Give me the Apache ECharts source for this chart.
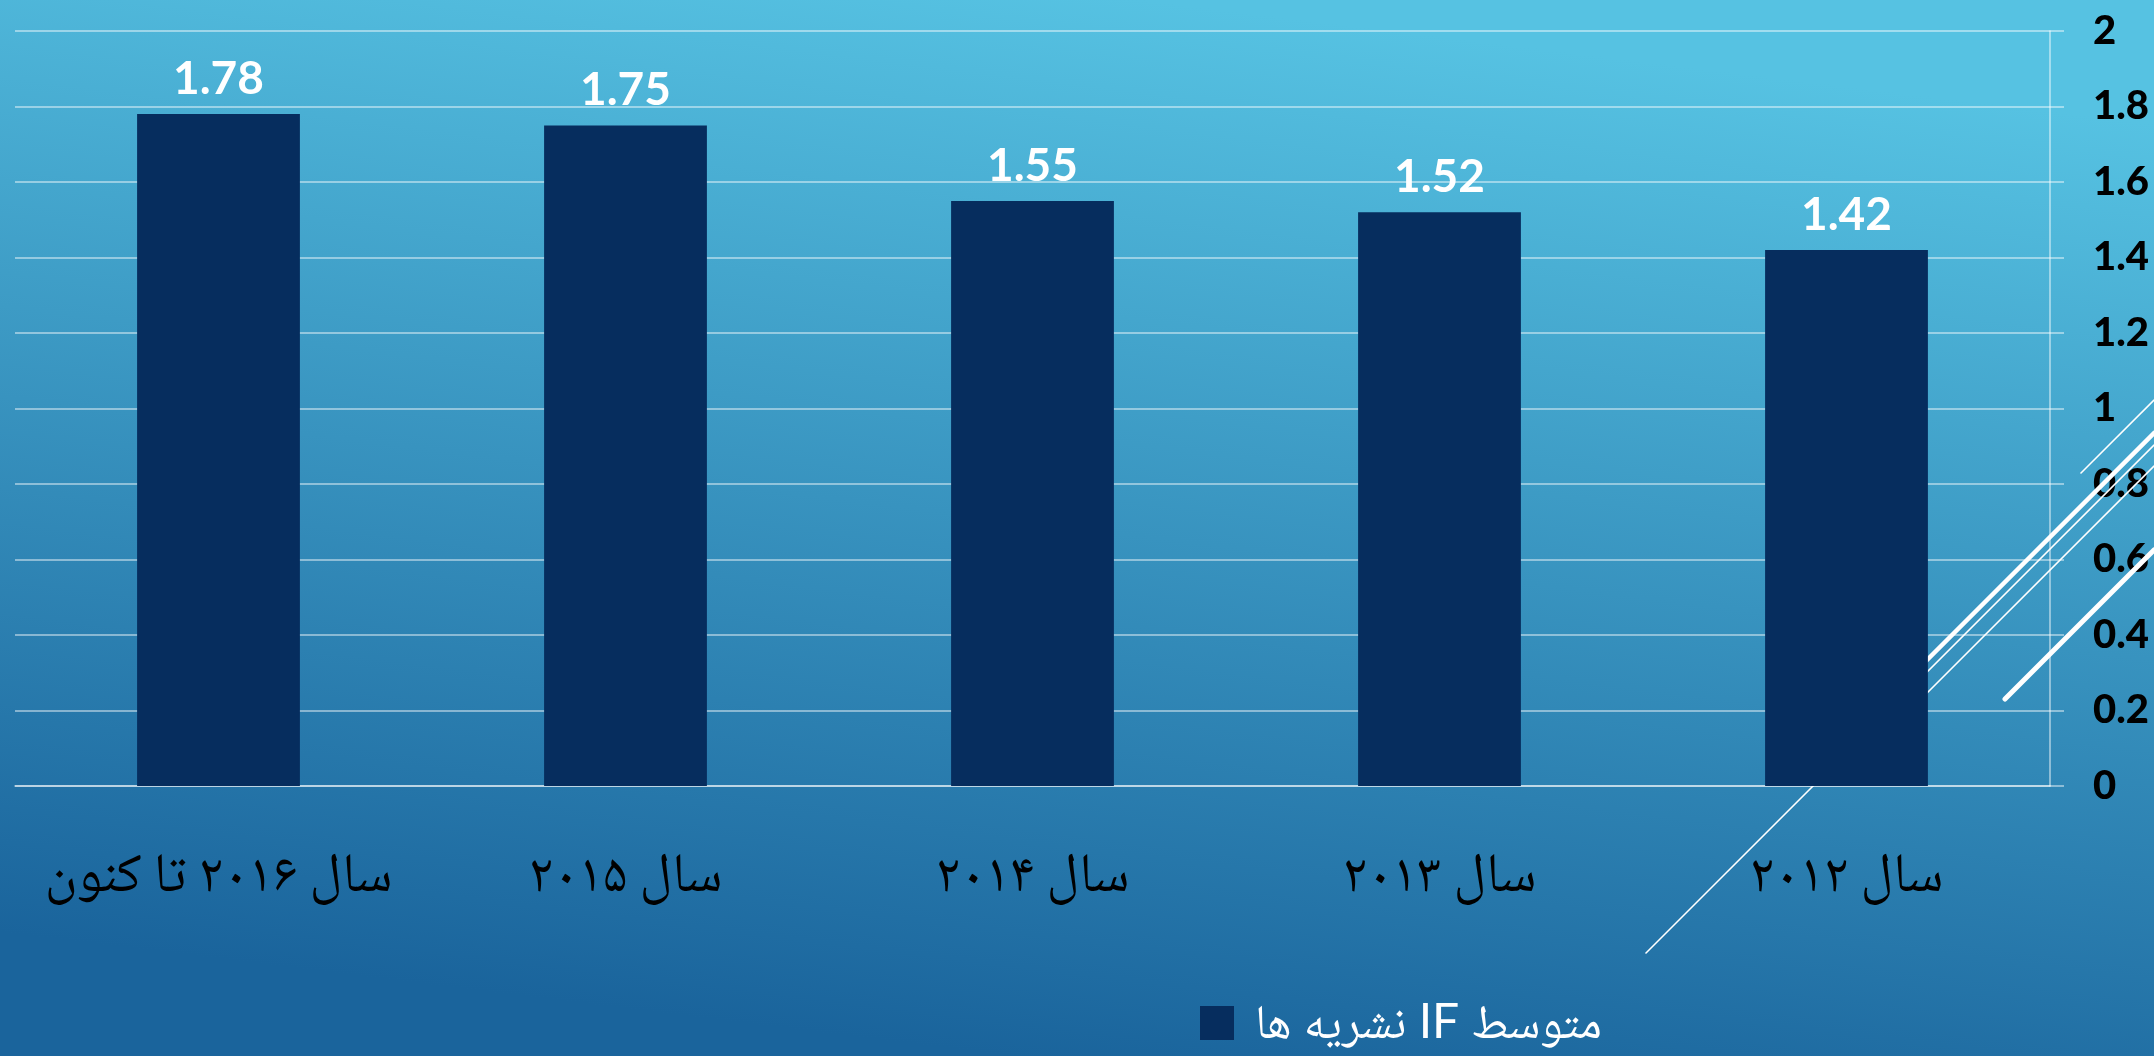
<!DOCTYPE html>
<html>
<head>
<meta charset="utf-8">
<script src="https://cdn.jsdelivr.net/npm/echarts@6/dist/echarts.min.js"></script>
<style>
  html, body { margin: 0; padding: 0; overflow: hidden; }
  #main { width: 2154px; height: 1056px; }
</style>
</head>
<body>
<div id="main" dir="rtl"></div>
<script>
const categories = ['سال ۲۰۱۶ تا کنون', 'سال ۲۰۱۵', 'سال ۲۰۱۴', 'سال ۲۰۱۳', 'سال ۲۰۱۲']
const values = [1.78, 1.75, 1.55, 1.52, 1.42]
const seriesName = 'متوسط IF نشریه ها'

const gridColor = 'rgba(255,255,255,0.6)'
const arabicFont = '"Noto Naskh Arabic", "DejaVu Sans", serif'

// slide decoration (white diagonal strokes), not data
const deco = [
  { x1: 1646, y1: 953, x2: 2154, y2: 445, w: 1.6 },
  { x1: 1860, y1: 727, x2: 2154, y2: 433, w: 4.5 },
  { x1: 1870, y1: 750, x2: 2154, y2: 466, w: 1.6 },
  { x1: 2081, y1: 473, x2: 2154, y2: 400, w: 1.6 },
  { x1: 2005, y1: 699, x2: 2154, y2: 550, w: 5 }
]

const myChart = echarts.init(document.getElementById('main'))

myChart.setOption({
  backgroundColor: {
    type: 'linear', x: 0.53, y: 0, x2: 0.47, y2: 1,
    colorStops: [
      { offset: 0, color: '#56c2e2' },
      { offset: 1, color: '#1a649c' }
    ]
  },
  animation: false,
  grid: { left: 15, right: 104, top: 31, bottom: 270 },
  legend: {
    left: 1195,
    top: 994,
    itemWidth: 34,
    itemHeight: 34,
    icon: 'rect',
    textStyle: { color: '#fff', fontSize: 48, fontFamily: 'Lato, ' + arabicFont, padding: [0, 0, 0, 16] },
    data: [seriesName]
  },
  xAxis: {
    type: 'category',
    data: categories,
    axisLine: { lineStyle: { color: gridColor, width: 1.5 } },
    axisTick: { length: 21, lineStyle: { color: gridColor, width: 1.5 } },
    axisLabel: { color: '#000', fontSize: 55, fontFamily: arabicFont, margin: 70, interval: 0 }
  },
  yAxis: {
    type: 'value',
    position: 'right',
    min: 0,
    max: 2,
    interval: 0.2,
    axisLine: { show: true, lineStyle: { color: gridColor, width: 1.5 } },
    axisTick: { show: true, length: 14, lineStyle: { color: gridColor, width: 1.5 } },
    splitLine: { lineStyle: { color: gridColor, width: 1.5 } },
    axisLabel: { color: '#000', fontSize: 40, fontWeight: 900, fontFamily: 'Lato', margin: 43 }
  },
  graphic: deco.map(d => ({
    type: 'line',
    z: 1,
    shape: { x1: d.x1, y1: d.y1, x2: d.x2, y2: d.y2 },
    style: { stroke: '#fff', lineWidth: d.w, lineCap: 'round' }
  })),
  series: [
    {
      name: seriesName,
      type: 'bar',
      z: 5,
      data: values,
      barWidth: '40%',
      itemStyle: { color: '#062d5e' },
      label: {
        show: true,
        position: 'top',
        distance: 12,
        color: '#fff',
        fontSize: 46,
        fontWeight: 'bold',
        fontFamily: 'Lato'
      }
    }
  ]
})
</script>
</body>
</html>
